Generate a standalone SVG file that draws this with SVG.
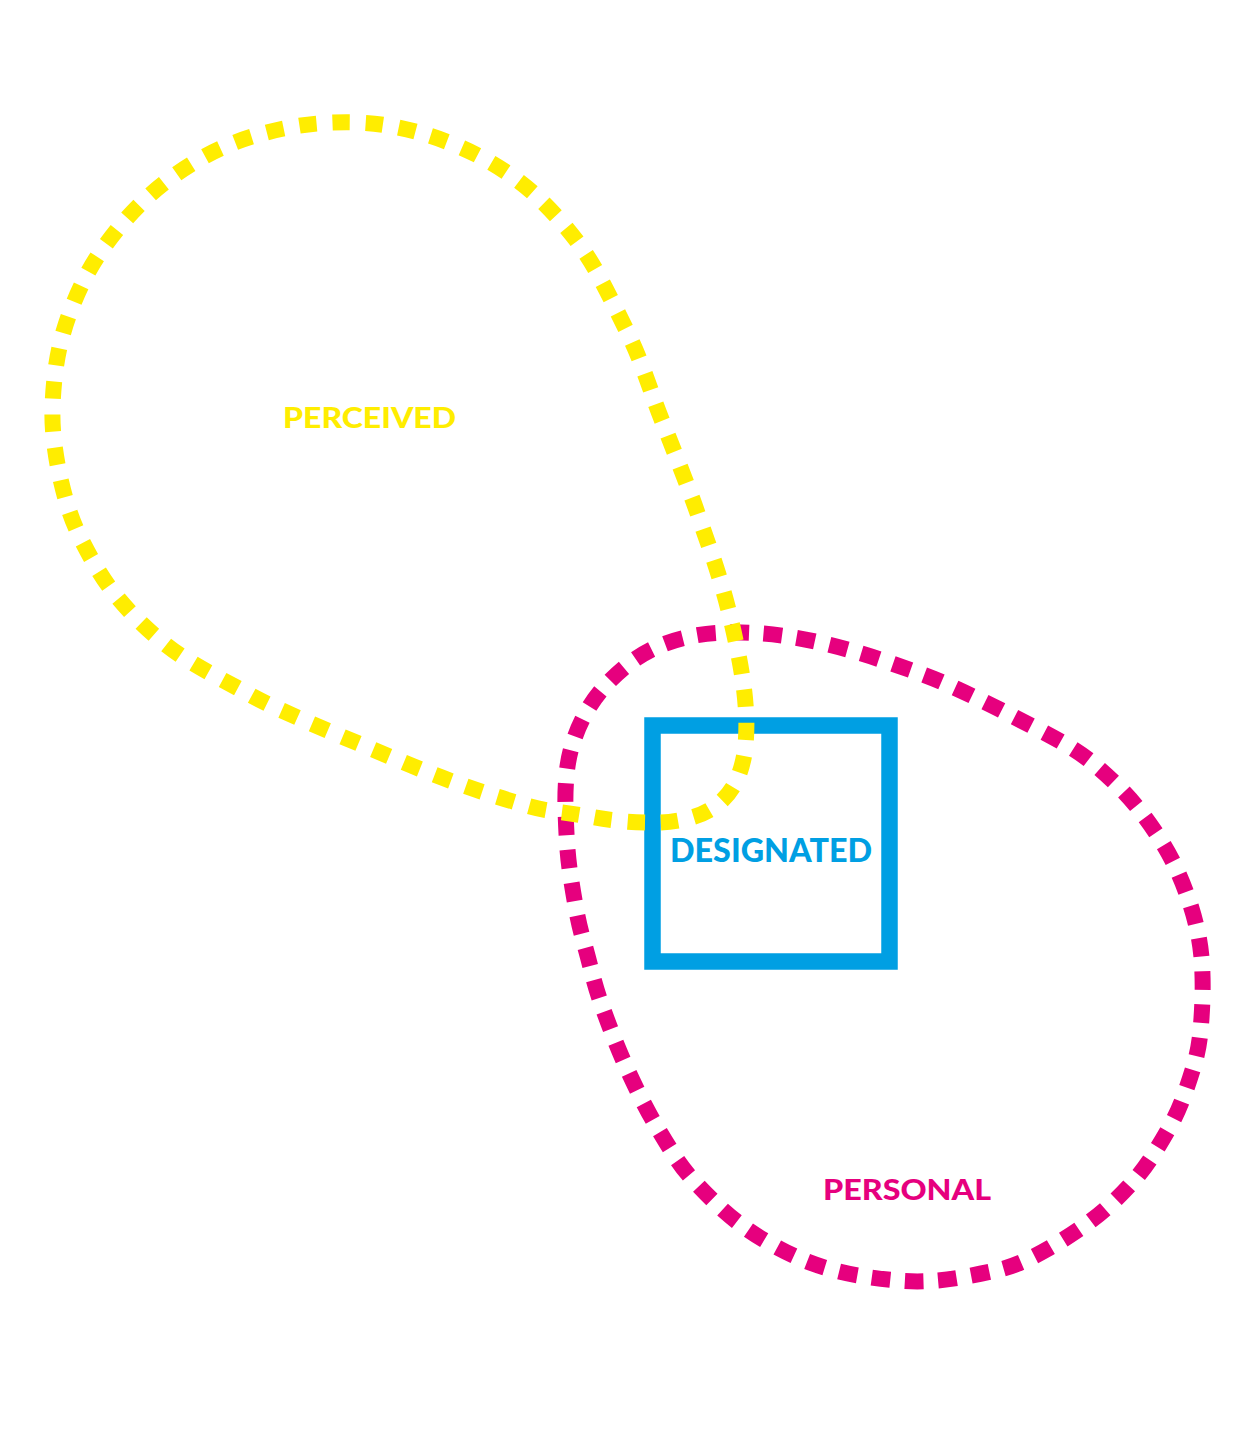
<svg xmlns="http://www.w3.org/2000/svg" width="1256" height="1432" viewBox="0 0 1256 1432">
<style>
.lbl{font-family:"Lato","Liberation Sans",sans-serif;font-weight:900;}
.dash{fill:none;stroke-width:16;stroke-linecap:butt;stroke-linejoin:round;}
</style>
<rect x="0" y="0" width="1256" height="1432" fill="#ffffff"/>
<g id="connectors"></g>
<g id="personal">
<path class="dash" stroke="#E6007E" pathLength="61" stroke-dasharray="0.56 0.44" stroke-dashoffset="0.78" d="M690,636.5 Q707,633 723.5,632.5 Q740,632 756,633 Q772,634 788.5,636.5 Q805,639 822,643 Q839,647 854.5,651.5 Q870,656 886,661.5 Q902,667 917.5,672.5 Q933,678 948.5,685 Q964,692 978.5,699 Q993,706 1007.5,713.5 Q1022,721 1037.5,729 Q1053,737 1067.5,745.5 Q1082,754 1094.5,764.5 Q1107,775 1119,787 Q1131,799 1141,812 Q1151,825 1160,839 Q1169,853 1176,868 Q1183,883 1188.5,899 Q1194,915 1197.5,931 Q1201,947 1202,964 Q1203,981 1202.5,997.5 Q1202,1014 1200.5,1031 Q1199,1048 1194.5,1063.5 Q1190,1079 1184,1095.5 Q1178,1112 1170.5,1125.5 Q1163,1139 1154,1153.5 Q1145,1168 1134,1180.5 Q1123,1193 1110.5,1204.5 Q1098,1216 1084.5,1225.5 Q1071,1235 1057,1243.5 Q1043,1252 1027.5,1259.5 Q1012,1267 996,1270.5 Q980,1274 963.5,1277 Q947,1280 930.5,1281 Q914,1282 897.5,1280.5 Q881,1279 864.5,1276.5 Q848,1274 831.5,1269.5 Q815,1265 800,1258.5 Q785,1252 770,1243.5 Q755,1235 742,1225.5 Q729,1216 717,1204.5 Q705,1193 693.5,1180.5 Q682,1168 673,1153.5 Q664,1139 656,1125.5 Q648,1112 640.5,1097 Q633,1082 626,1066.5 Q619,1051 613,1035.5 Q607,1020 601.5,1004.5 Q596,989 592,973 Q588,957 583.5,941 Q579,925 576,908.5 Q573,892 570.5,875.5 Q568,859 567,842.5 Q566,826 565.5,809 Q565,792 566.5,775 Q568,758 573,742.5 Q578,727 586,712.5 Q594,698 605.5,685.5 Q617,673 630,663 Q643,653 658,646.5 Q673,640 690,636.5 Z"/>
<text class="lbl" x="823" y="1200" font-size="29" fill="#E6007E" textLength="168" lengthAdjust="spacingAndGlyphs">PERSONAL</text>
</g>
<g id="designated">
<rect x="652.5" y="725.5" width="237" height="236" fill="none" stroke="#009FE3" stroke-width="16.5"/>
<text class="lbl" x="670" y="862" font-size="32" fill="#009FE3" textLength="202" lengthAdjust="spacingAndGlyphs">DESIGNATED</text>
</g>
<g id="perceived">
<path class="dash" stroke="#FFED00" pathLength="66" stroke-dasharray="0.52 0.48" stroke-dashoffset="0.76" d="M324.5,123 Q341,122 357.5,122.5 Q374,123 390.5,126 Q407,129 422.5,133.5 Q438,138 454,144.5 Q470,151 484.5,159 Q499,167 512.5,176.5 Q526,186 538,197.5 Q550,209 561,221.5 Q572,234 581.5,247.5 Q591,261 599,276 Q607,291 614.5,306 Q622,321 629,335.5 Q636,350 642,366 Q648,382 652.5,395 Q657,408 663,423 Q669,438 675,453.5 Q681,469 687,484.5 Q693,500 698.5,516 Q704,532 709.5,547.5 Q715,563 720,579.5 Q725,596 729,612 Q733,628 736.5,645 Q740,662 742.5,678 Q745,694 746,711 Q747,728 745.5,745 Q744,762 738,777 Q732,792 720,802.5 Q708,813 691.5,817.5 Q675,822 658.5,822.5 Q642,823 625,821.5 Q608,820 592,817 Q576,814 559,812 Q542,810 526.5,805.5 Q511,801 495,796 Q479,791 463.5,785.5 Q448,780 432.5,774 Q417,768 401.5,761.5 Q386,755 370.5,748.5 Q355,742 339.5,735.5 Q324,729 309,722.5 Q294,716 278.5,709 Q263,702 248.5,694 Q234,686 219,678 Q204,670 190,661.5 Q176,653 163,642.5 Q150,632 138,620 Q126,608 115.5,595 Q105,582 96.5,567.5 Q88,553 80.5,538 Q73,523 68,507 Q63,491 59.5,474.5 Q56,458 54,441 Q52,424 52.5,407.5 Q53,391 55,374 Q57,357 61,341 Q65,325 71,309.5 Q77,294 84.5,279 Q92,264 101.5,250.5 Q111,237 121.5,224.5 Q132,212 144,200.5 Q156,189 169.5,179 Q183,169 197.5,160.5 Q212,152 227.5,145.5 Q243,139 259,134.5 Q275,130 291.5,127 Q308,124 324.5,123 Z"/>
<text class="lbl" x="283" y="428" font-size="29" fill="#FFED00" textLength="173" lengthAdjust="spacingAndGlyphs">PERCEIVED</text>
</g>
</svg>
